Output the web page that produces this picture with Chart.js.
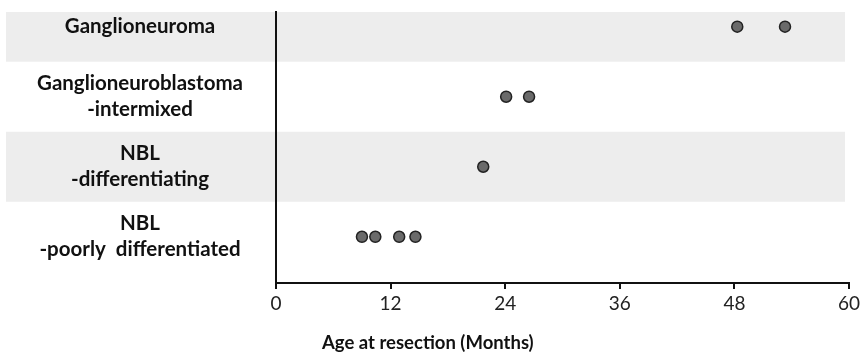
<!DOCTYPE html>
<html><head><meta charset="utf-8">
<script src="https://cdn.jsdelivr.net/npm/chart.js@4/dist/chart.umd.min.js"></script>
<style>html,body{margin:0;padding:0;background:#fff;}#wrap{width:868px;height:356px;}</style>
</head><body><div id="wrap"><canvas id="c" width="868" height="356"></canvas></div>
<script>
const categories = [
  ["Ganglioneuroma"],
  ["Ganglioneuroblastoma", "-intermixed"],
  ["NBL", "-differentiating"],
  ["NBL", "-poorly  differentiated"]
];
const ganglioneuroma = [48.3, 53.3];
const gnbIntermixed = [24.1, 26.5];
const nblDifferentiating = [21.7];
const nblPoorly = [9.0, 10.4, 12.9, 14.6];
const xTicks = [0, 12, 24, 36, 48, 60];
const xTitle = "Age at resection (Months)";

const groups = [ganglioneuroma, gnbIntermixed, nblDifferentiating, nblPoorly];
const pts = [];
groups.forEach((g, i) => g.forEach(v => pts.push({x: v, y: i})));

const bandPlugin = {
  id: 'bands',
  beforeDraw(chart) {
    const {ctx, chartArea, scales: {y}} = chart;
    ctx.save();
    ctx.fillStyle = '#ededed';
    [0, 2].forEach(i => {
      const a = Math.max(chartArea.top, y.getPixelForValue(i - 0.5));
      const b = Math.min(chartArea.bottom, y.getPixelForValue(i + 0.5));
      ctx.fillRect(6, a, chartArea.right - 4 - 6, b - a);
    });
    ctx.restore();
  },
  afterDraw(chart) {
    const {ctx, chartArea} = chart;
    ctx.save();
    ctx.font = 'bold 18.5px Lato';
    ctx.fillStyle = '#111';
    ctx.textAlign = 'center';
    ctx.textBaseline = 'middle';
    ctx.fillText(xTitle, chartArea.left + 0.265 * (chartArea.right - chartArea.left), 343);
    ctx.restore();
  }
};

new Chart(document.getElementById('c'), {
  type: 'scatter',
  data: { datasets: [{
    data: pts,
    backgroundColor: '#6a6a6a',
    borderColor: '#222',
    borderWidth: 1.5,
    pointRadius: 5.5,
    pointHoverRadius: 5.5
  }]},
  plugins: [bandPlugin],
  options: {
    responsive: false,
    animation: false,
    events: [],
    layout: { padding: { top: 12, right: 19, left: 0, bottom: 0 } },
    plugins: { legend: {display: false}, tooltip: {enabled: false} },
    scales: {
      x: {
        type: 'linear', min: 0, max: 60,
        afterBuildTicks(s) { s.ticks = xTicks.map(v => ({value: v})); },
        afterFit(s) { s.height = 73; s.paddingLeft = 0; s.paddingRight = 0; },
        grid: { drawOnChartArea: false, drawTicks: true, tickLength: 6, color: '#111', lineWidth: 2 },
        border: { color: '#111', width: 2 },
        ticks: { color: '#222', font: {family: 'Lato', size: 19}, padding: 3, maxRotation: 0 }
      },
      y: {
        type: 'linear', min: -0.21, max: 3.66, reverse: true,
        afterBuildTicks(s) { s.ticks = categories.map((c, i) => ({value: i})); },
        afterFit(s) { s.width = 276; s.paddingTop = 0; s.paddingBottom = 0; },
        grid: { drawOnChartArea: false, drawTicks: false },
        border: { color: '#111', width: 2 },
        ticks: {
          color: '#111', crossAlign: 'center', padding: 33,
          font: {family: 'Lato', size: 20.5, weight: 'bold', lineHeight: 1.27},
          callback: (v) => categories[v]
        }
      }
    }
  }
});
</script></body></html>
